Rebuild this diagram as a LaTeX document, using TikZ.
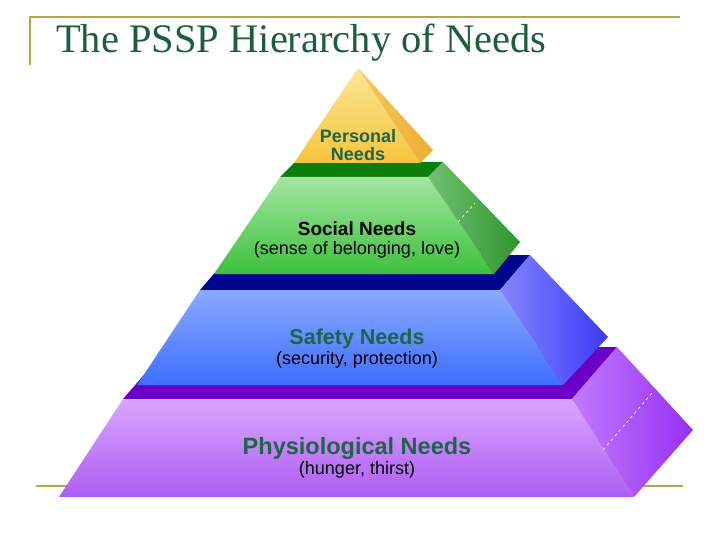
\documentclass[tikz,border=0pt]{standalone}
\usepackage{fontspec}
\setmainfont{Liberation Sans}
\newfontfamily\titlefont{Liberation Serif}
\usetikzlibrary{positioning}
\definecolor{frame}{HTML}{B9A34B}
\definecolor{needs}{HTML}{1E6446}
\definecolor{titlegreen}{HTML}{1D5E3A}

\begin{document}
\begin{tikzpicture}[x=1pt,y=-1pt,inner sep=0pt,
        face/.style={shade,draw=none},
        rim/.style={draw=frame,line width=2pt},
        hidden/.style={draw=white,line width=0.6pt,dash pattern=on 3pt off 3pt},
        head/.style={font=\bfseries\fontsize{#1}{#1}\selectfont,text=needs},
        sub/.style={font=\fontsize{18}{20}\selectfont}]
    \useasboundingbox (0,0) rectangle (720,540);
    \draw[rim] (30,65) -- (30,17.5) -- (680,17.5);
    \draw[rim] (36,486) -- (683,486);
    \node[anchor=base west,text=titlegreen,font=\titlefont\fontsize{40.5}{41}\selectfont] (title) at (56,53) {The PSSP Hierarchy of Needs};

    % physiological
    \fill[color={rgb,255:red,106;green,0;blue,198}] (123,399) -- (572,399) -- (617,347) -- (168,347) -- cycle;
    \path[face,top color={rgb,255:red,217;green,166;blue,255},bottom color={rgb,255:red,174;green,92;blue,242}]
        (123,399) -- (572,399) -- (634,497) -- (59,497) -- cycle;
    \path[face,left color={rgb,255:red,194;green,122;blue,255},right color={rgb,255:red,150;green,48;blue,242}]
        (572,399) -- (617,347) -- (693,430) -- (634,497) -- cycle;
    \draw[hidden] (603,450) -- (652,393);

    % safety
    \fill[color={rgb,255:red,0;green,5;blue,143}] (200,290) -- (500,290) -- (530,255) -- (230,255) -- cycle;
    \path[face,top color={rgb,255:red,139;green,170;blue,255},bottom color={rgb,255:red,61;green,110;blue,255}]
        (200,290) -- (500,290) -- (563,385) -- (137,385) -- cycle;
    \path[face,left color={rgb,255:red,133;green,133;blue,255},right color={rgb,255:red,58;green,58;blue,245}]
        (500,290) -- (530,255) -- (608,337) -- (563,385) -- cycle;

    % social
    \fill[color={rgb,255:red,11;green,125;blue,11}] (280,177) -- (428,177) -- (443,162) -- (295,162) -- cycle;
    \path[face,top color={rgb,255:red,163;green,230;blue,160},bottom color={rgb,255:red,60;green,192;blue,60}]
        (280,177) -- (428,177) -- (494,274) -- (214,274) -- cycle;
    \path[face,left color={rgb,255:red,114;green,192;blue,114},right color={rgb,255:red,46;green,150;blue,46}]
        (428,177) -- (443,162) -- (520,242) -- (494,274) -- cycle;
    \draw[hidden] (458,222) -- (475,203);

    % personal
    \path[face,top color={rgb,255:red,252;green,230;blue,150},bottom color={rgb,255:red,247;green,196;blue,60}]
        (358,68) -- (420,163) -- (294,163) -- cycle;
    \path[face,left color={rgb,255:red,247;green,200;blue,90},right color={rgb,255:red,237;green,174;blue,52}]
        (358,68) -- (433,150) -- (420,163) -- cycle;

    \node[head=18,align=center] (pers) at (358,145) {\fontsize{18}{20.5}\selectfont Personal\\Needs};
    \node[head=19,text=black] (soc) at (357,229) {Social Needs};
    \node[sub] (soc') [below=5pt of soc] {(sense of belonging, love)};
    \node[head=21.5] (saf) at (357,339) {Safety Needs};
    \node[sub] (saf') [below=2.5pt of saf] {(security, protection)};
    \node[head=23.5] (phys) at (357,448) {Physiological Needs};
    \node[sub] (phys') [below=2.5pt of phys] {(hunger, thirst)};
\end{tikzpicture}
\end{document}
